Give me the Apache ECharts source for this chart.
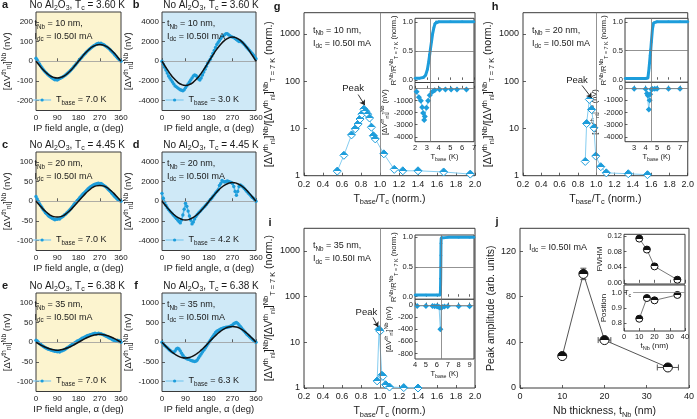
<!DOCTYPE html>
<html><head><meta charset="utf-8">
<script src="https://cdn.jsdelivr.net/npm/echarts@6/dist/echarts.min.js"></script>
<style>html,body{margin:0;padding:0;background:#fff}#c{width:697px;height:419px}</style>
</head><body><div id="c"></div>
<script>
// ---------------- DATA ----------------
const angles = [0,5,10,15,20,25,30,35,40,45,50,55,60,65,70,75,80,85,90,95,100,105,110,115,120,125,130,135,140,145,150,155,160,165,170,175,180,185,190,195,200,205,210,215,220,225,230,235,240,245,250,255,260,265,270,275,280,285,290,295,300,305,310,315,320,325,330,335,340,345,350,355,360];
const fitAngles = [0,15,30,45,60,75,90,105,120,135,150,165,180,195,210,225,240,255,270,285,300,315,330,345,360];

const aVals = [15,6,-4,-14,-24,-33,-41,-49,-55,-61,-67,-72,-77,-82,-86,-90,-94,-93,-95,-91,-88,-85,-82,-78,-74,-70,-65,-60,-54,-48,-42,-35,-28,-21,-14,-6,1,8,15,22,29,35,42,48,54,60,65,70,74,79,82,86,89,91,88,92,87,85,81,77,73,68,63,57,51,45,38,31,24,17,11,5,0];
const aFit = [0,-22,-43,-60,-74,-82,-85,-82,-74,-60,-43,-22,0,22,43,60,74,82,85,82,74,60,43,22,0];

const bVals = [0,-300,-600,-900,-1200,-1500,-1700,-1900,-2100,-2300,-2500,-2600,-2700,-2800,-2900,-2950,-3000,-2900,-2700,-2500,-2300,-2100,-1900,-1700,-1500,-1400,-1450,-1600,-1800,-1900,-1700,-1400,-1100,-800,-500,-200,0,200,500,800,1100,1400,1700,1900,2100,2300,2500,2600,2700,2800,2800,2700,2600,2500,2450,2400,2300,2200,2100,2000,2050,1950,1850,1700,1550,1400,1250,1100,950,800,650,450,250];
const bFit = [0,-634,-1225,-1732,-2122,-2367,-2450,-2367,-2122,-1732,-1225,-634,0,634,1225,1732,2122,2367,2450,2367,2122,1732,1225,634,0];

const cVals = [12,6,0,-6,-11,-16,-21,-25,-29,-32,-35,-38,-40,-42,-44,-45,-47,-45,-46,-44,-45,-42,-40,-38,-35,-33,-30,-27,-24,-20,-17,-13,-9,-5,-2,2,5,9,12,16,19,22,25,28,31,34,36,38,40,42,43,44,45,46,44,45,43,41,39,37,34,31,28,25,21,18,14,11,8,5,3,2,0];
const cFit = [0,-10,-20,-28,-35,-39,-40,-39,-35,-28,-20,-10,0,10,20,28,35,39,40,39,35,28,20,10,0];

const dVals = [800,300,-100,-400,-650,-850,-1000,-1150,-1300,-1450,-1600,-1750,-1900,-2050,-2200,-1900,-1400,-800,-200,-500,-1000,-1500,-1900,-2300,-2100,-1800,-1550,-1350,-1200,-1050,-900,-750,-620,-480,-320,-160,0,150,300,500,650,850,1000,1150,1600,1800,2100,2000,1950,2000,2050,2000,1950,1900,1800,1500,1000,600,1000,1500,1650,1550,1450,1300,1150,1000,850,700,550,400,300,150,0];
const dFit = [0,-492,-950,-1343,-1645,-1835,-1900,-1835,-1645,-1343,-950,-492,0,492,950,1343,1645,1835,1900,1835,1645,1343,950,492,0];

const eVals = [5,3,0,-3,-5,-8,-10,-12,-14,-15,-17,-18,-19,-20,-21,-22,-23,-22,-24,-23,-25,-22,-22,-20,-19,-17,-15,-13,-11,-9,-7,-5,-3,-1,1,3,4,6,8,10,11,13,14,16,17,18,19,20,21,22,23,21,22,23,21,22,20,19,18,16,15,13,11,10,8,6,5,4,3,5,2,4,0];
const eFit = [0,-5,-10,-14,-17,-19,-20,-19,-17,-14,-10,-5,0,5,10,14,17,19,20,19,17,14,10,5,0];

const fVals = [0,-40,-80,-110,-140,-170,-200,-230,-250,-260,-220,-170,-150,-170,-220,-280,-330,-380,-400,-420,-430,-440,-460,-470,-480,-490,-480,-450,-400,-350,-300,-250,-200,-150,-100,-50,0,50,100,150,200,250,280,300,320,340,350,360,370,380,380,390,400,420,440,470,490,500,480,440,400,360,320,280,240,200,170,140,110,80,50,20,0];
const fFit = [0,-104,-200,-283,-346,-386,-400,-386,-346,-283,-200,-104,0,104,200,283,346,386,400,386,346,283,200,104,0];

const panelTc = ['3.60','3.60','4.45','4.45','6.38','6.38'];
const panelTnb = ['10','10','20','20','35','35'];
const panelTbase = ['7.0','3.0','7.0','4.2','7.0','6.3'];
const panelLetters = ['a','b','c','d','e','f'];

// g, h, i main (T_base/T_c, normalized amplitude)
const gX = [0.55,0.62,0.70,0.74,0.77,0.79,0.81,0.83,0.85,0.87,0.89,0.91,0.93,0.95,1.04,1.15,1.24,1.40,1.67,1.95];
const gY = [1.25,2.7,7.3,9.8,12.4,15.8,20,25.5,23,20,16.6,10.6,7,6,2.9,1.36,1.27,1.27,1.2,1.08];
const hX = [0.88,0.895,0.925,0.95,0.975,0.995,1.05,1.11,1.35,1.56];
const hY = [2.0,12.7,41,25,10.3,2.6,1.55,1.15,1.1,1.05];
const iX = [0.97,0.99,1.0,1.02,1.03,1.06,1.1,1.25,1.4];
const iY = [1.43,19,17.5,1.9,1.8,1.18,1.05,1.02,1.0];

// insets: R/R(7K) vs T_base
const gRT = [2.0,2.4,2.7,2.9,3.05,3.15,3.25,3.3,3.4,3.5,3.6,3.7,3.8,4.0,5.0,6.0,7.0];
const gRV = [0.03,0.03,0.04,0.08,0.18,0.3,0.44,0.52,0.66,0.8,0.9,0.97,1.0,1.0,1.0,1.0,1.0];
const hRT = [2.2,3.0,4.0,4.2,4.3,4.4,4.45,4.5,4.6,4.7,5.0,6.0,7.0,7.7];
const hRV = [0.02,0.02,0.02,0.03,0.2,0.42,0.52,0.65,0.88,0.98,1.0,1.0,1.0,1.0];
const iRT = [4.0,5.0,6.0,6.3,6.33,6.35,6.36,6.37,6.38,6.4,6.45,7.0,8.0,9.0,9.4];
const iRV = [0.03,0.03,0.03,0.03,0.1,0.3,0.5,0.7,0.9,0.99,1.0,1.0,1.0,1.0,1.0];
// insets: [dV]^Nb (nV) vs T_base
const gVT = [2.14,2.33,2.5,2.61,2.69,2.78,2.83,2.97,3.11,3.25,3.47,3.67,4.08,4.58,5.06,5.56,6.36];
const gVV = [-290,-730,-1020,-1550,-2040,-2620,-2330,-1600,-1020,-580,-290,-150,-90,-90,-90,-90,-90];
const hVT = [3.0,4.0,4.12,4.2,4.28,4.35,4.4,4.5,4.6,4.8,5.0,6.0,7.0];
const hVV = [-50,-80,-450,-600,-1750,-1000,-500,-100,-80,-60,-50,-50,-50];
const iVT = [4.2,5.0,5.6,5.8,6.0,6.1,6.2,6.28,6.32,6.4,6.5,6.7,7.0,8.0,9.0];
const iVV = [-15,-15,-15,-20,-20,-25,-30,-40,-400,-40,-30,-25,-20,-20,-20];
const gTcLine = 3.3, hTcLine = 4.45, iTcLine = 6.36;

// j
const jThick = [10,15,20,35];
const jAmp = [28,100,42,18];
const jAmpErr = [0,5,0,0];
const jThickErr = [0,0,1.5,2.5];
const jFwhm = [0.113,0.085,0.042,0.008];
const jPos = [0.83,0.965,0.95,0.985];

// ---------------- STYLE ----------------
const FONT = '"Liberation Sans", Arial, sans-serif';
const TXT = '#1a1a1a';
const C_DATA = '#1d9ddb';
const C_LIGHT = '#86cdf0';
const BG_Y = '#fcf4cf';
const BG_B = '#cfe9f7';
const plain = v => String(Math.round(v*1000)/1000);

function R(size){
  const s = Math.round(size*0.7*10)/10;
  return {
    n:{fontSize:size,fontFamily:FONT,color:TXT,lineHeight:Math.round(size*1.3)},
    sub:{fontSize:s,fontFamily:FONT,color:TXT,verticalAlign:'bottom',lineHeight:Math.round(size*0.75)},
    sup:{fontSize:s,fontFamily:FONT,color:TXT,verticalAlign:'top',lineHeight:Math.round(size*0.75)}
  };
}
function half(c){return {type:'linear',x:0,y:0,x2:0,y2:1,colorStops:[{offset:0,color:c},{offset:0.5,color:c},{offset:0.5,color:'#fff'},{offset:1,color:'#fff'}]};}

const grids = [], xAxes = [], yAxes = [], series = [], legends = [], graphics = [];

function addGrid(box, bg){
  grids.push({left:box[0],top:box[1],width:box[2],height:box[3],show:true,backgroundColor:bg||'transparent',borderColor:'#3a3a3a',borderWidth:1,containLabel:false});
  return grids.length-1;
}
function axisBase(g, o){
  return Object.assign({type:'value',gridIndex:g,axisLine:{show:false},
    axisTick:{show:true,inside:true,length:3,lineStyle:{color:'#3a3a3a',width:0.8}},
    splitLine:{show:false}}, o);
}
function lbl(size, extra){return Object.assign({fontSize:size,color:TXT,fontFamily:FONT,formatter:plain},extra||{});}

function gtext(x,y,text,size,align,extra){
  graphics.push(Object.assign({type:'text',x:x,y:y,z:100,silent:true,
    style:{text:text,rich:R(size),font:size+'px '+FONT,fill:TXT,align:align||'left',textAlign:align||'left',verticalAlign:'middle',textVerticalAlign:'middle'}},extra||{}));
}
function letter(x,y,t){
  graphics.push({type:'text',x:x,y:y,z:100,silent:true,style:{text:t,font:'bold 11px '+FONT,fill:TXT,align:'center',textAlign:'center',verticalAlign:'middle',textVerticalAlign:'middle'}});
}

// ---------- panels a-f ----------
const panelVals = [aVals,bVals,cVals,dVals,eVals,fVals];
const panelFits = [aFit,bFit,cFit,dFit,eFit,fFit];
const panelRange = [250,5000,125,5000,125,1250];
const panelTicks = [[-200,-100,0,100,200],[-4000,-2000,0,2000,4000],[-100,-50,0,50,100],[-4000,-2000,0,2000,4000],[-100,-50,0,50,100],[-1000,-500,0,500,1000]];
const rowTop = [12,152,293];
const colBox = [[29.5,91.5],[162,94]];
const yNameGap = [23,25,23,25,23,25];

for(let p=0;p<6;p++){
  const row = Math.floor(p/2), col = p%2;
  const L = colBox[col][0], W = colBox[col][1], T = rowTop[row], H = 98.5;
  const g = addGrid([L,T,W,H], col===0?BG_Y:BG_B);
  xAxes.push(axisBase(g,{min:0,max:360,interval:90,
    axisLabel:lbl(8,{margin:3}),
    name:'IP field angle, α (deg)',nameLocation:'middle',nameGap:13,
    nameTextStyle:{fontSize:9.5,color:TXT,fontFamily:FONT}}));
  const rg = panelRange[p], tk = panelTicks[p];
  yAxes.push(axisBase(g,{min:-rg,max:rg,
    axisLabel:lbl(8,{margin:3,customValues:tk}),
    axisTick:{show:true,inside:true,length:3,customValues:tk,lineStyle:{color:'#3a3a3a',width:0.8}},
    name:'{n|[ΔV}{sup|th}{sub|nl}{n|]}{sup|Nb}{n| (nV)}',nameLocation:'middle',nameGap:yNameGap[p],nameRotate:90,
    nameTextStyle:{rich:R(9.5)}}));
  const vals = panelVals[p], fit = panelFits[p];
  const nm = 'T'+panelLetters[p];
  series.push({type:'line',name:nm,xAxisIndex:g,yAxisIndex:g,data:angles.map((a,i)=>[a,vals[i]]),
    symbol:'circle',symbolSize:3.4,itemStyle:{color:C_DATA},lineStyle:{color:'#4fb5e6',width:1.6},z:3,
    markLine:{silent:true,symbol:['none','none'],label:{show:false},lineStyle:{color:'#9a9a9a',width:0.8,type:'solid'},data:[{yAxis:0}]}});
  series.push({type:'line',name:'fit'+p,xAxisIndex:g,yAxisIndex:g,data:fitAngles.map((a,i)=>[a,fit[i]]),
    smooth:true,symbol:'none',showSymbol:false,lineStyle:{color:'#111',width:1.5},z:5});
  legends.push({data:[nm],left:L+3,top:T+H-15,itemWidth:18,itemHeight:4,itemGap:2,
    itemStyle:{color:C_DATA},lineStyle:{color:'#7ccaf0',width:1.2},
    formatter:()=>'{n|T}{sub|base}{n| = '+panelTbase[p]+' K}',textStyle:{rich:R(9)},padding:0});
  letter(col===0?5:136, T-7, panelLetters[p]);
  gtext(L+W/2+2, T-7, '{n|No Al}{sub|2}{n|O}{sub|3}{n|, T}{sub|c}{n| = '+panelTc[p]+' K}', 10, 'center');
  gtext(L+5, T+12, '{n|t}{sub|Nb}{n| = '+panelTnb[p]+' nm,}', 9, 'left');
  gtext(L+5, T+24.5, '{n|I}{sub|dc}{n| = I0.50I mA}', 9, 'left');
}

// ---------- g, h, i ----------
const mainSpecs = [
  {box:[304,12.7,171,163], max:2800, X:gX, Y:gY, letter:'g', lx:277, ly:7, tnb:'10', peakTxt:[0.717,69], arrow:[[0.77,52],[0.84,31]],
   insT:[415,18.3,59,64.2], insB:[415,82.5,59,59.2], xr:[2,7], xt:[2,3,4,5,6,7], RT:gRT, RV:gRV, VT:gVT, VV:gVV, vr:[-4400,480], vt:[-4000,-3000,-2000,-1000,0], tc:gTcLine, rr:[-0.045,1.06]},
  {box:[523,12.7,169,163], max:2800, X:hX, Y:hY, letter:'h', lx:495, ly:7, tnb:'20', peakTxt:[0.79,104], arrow:[[0.845,81],[0.95,44]],
   insT:[625,18.3,63,64], insB:[625,82.3,63,59.4], xr:[2.2,7.7], xt:[3,4,5,6,7], RT:hRT, RV:hRV, VT:hVT, VV:hVV, vr:[-4400,480], vt:[-4000,-3000,-2000,-1000,0], tc:hTcLine, rr:[-0.045,1.06]},
  {box:[304,228.3,171,164.4], max:3100, X:iX, Y:iY, letter:'i', lx:270, ly:223, tnb:'35', peakTxt:[0.857,45], arrow:[[0.926,35],[0.98,21.6]],
   insT:[415,235,59,64.3], insB:[415,299.3,59,59.7], xr:[4,9.4], xt:[4,5,6,7,8,9], RT:iRT, RV:iRV, VT:iVT, VV:iVV, vr:[-890,95], vt:[-800,-600,-400,-200,0], tc:iTcLine, rr:[-0.044,1.04]}
];
const yNameMain = '{n|[ΔV}{sup|th}{sub|nl}{n|]}{sup|Nb}{n|/[ΔV}{sup|th}{sub|nl}{n|]}{sup|Nb}{sub|T = 7 K}{n| (norm.)}';
mainSpecs.forEach(s=>{
  const g = addGrid(s.box,'#fff');
  xAxes.push(axisBase(g,{min:0.2,max:2.0,interval:0.2,
    axisLabel:lbl(9,{margin:4,formatter:v=>v.toFixed(1)}),
    name:'{n|T}{sub|base}{n|/T}{sub|c}{n| (norm.)}',nameLocation:'middle',nameGap:16,nameTextStyle:{rich:R(10.5)}}));
  yAxes.push(axisBase(g,{type:'log',logBase:10,min:1,max:s.max,
    axisLabel:lbl(9,{margin:4,customValues:[1,10,100,1000],formatter:v=>String(Math.round(v))}),
    axisTick:{show:true,inside:true,length:3,customValues:[1,10,100,1000],lineStyle:{color:'#3a3a3a',width:0.8}},
    name:yNameMain,nameLocation:'middle',nameGap:22,nameRotate:90,nameTextStyle:{rich:R(10.5)}}));
  series.push({type:'line',name:'main'+s.letter,xAxisIndex:g,yAxisIndex:g,data:s.X.map((x,i)=>[x,s.Y[i]]),
    symbol:'diamond',symbolSize:8,itemStyle:{color:half(C_DATA),borderColor:C_DATA,borderWidth:1},
    lineStyle:{color:C_LIGHT,width:1},z:4,
    markLine:{silent:true,symbol:['none','none'],label:{show:false},animation:false,
      data:[{xAxis:1.0,lineStyle:{color:'#777',width:0.8,type:'solid'}},
        [{coord:s.arrow[0],symbol:'none'},{coord:s.arrow[1],symbol:'arrow',symbolSize:5,lineStyle:{color:'#222',width:0.9,type:'solid'}}]]},
    markPoint:{silent:true,symbol:'circle',symbolSize:1,itemStyle:{color:'rgba(0,0,0,0)'},
      label:{show:true,position:'inside',formatter:'Peak',fontSize:9.5,color:TXT,fontFamily:FONT},
      data:[{coord:s.peakTxt}]}});
  letter(s.lx, s.ly, s.letter);
  gtext(s.box[0]+9, s.box[1]+17.5, '{n|t}{sub|Nb}{n| = '+s.tnb+' nm,}', 9, 'left');
  gtext(s.box[0]+9, s.box[1]+30.5, '{n|I}{sub|dc}{n| = I0.50I mA}', 9, 'left');

  // inset top: R/R7K
  const gt = addGrid(s.insT,'#fff');
  xAxes.push(axisBase(gt,{min:s.xr[0],max:s.xr[1],axisLabel:{show:false},
    axisTick:{show:true,inside:true,length:2.5,customValues:s.xt,lineStyle:{color:'#3a3a3a',width:0.8}}}));
  yAxes.push(axisBase(gt,{min:s.rr[0],max:s.rr[1],
    axisLabel:lbl(7.5,{margin:2,customValues:[0,0.5,1],formatter:v=>v.toFixed(1)}),
    axisTick:{show:true,inside:true,length:2.5,customValues:[0,0.5,1],lineStyle:{color:'#3a3a3a',width:0.8}},
    name:'{n|R}{sup|Nb}{n|/R}{sup|Nb}{sub|T = 7 K}{n| (norm.)}',nameLocation:'middle',nameGap:15,nameRotate:90,nameTextStyle:{rich:R(7.5)}}));
  series.push({type:'line',name:'R'+s.letter,xAxisIndex:gt,yAxisIndex:gt,data:s.RT.map((x,i)=>[x,s.RV[i]]),
    symbol:'circle',symbolSize:2.5,itemStyle:{color:C_DATA},lineStyle:{color:C_DATA,width:3},z:4,
    markLine:{silent:true,symbol:['none','none'],label:{show:false},lineStyle:{color:'#777',width:0.8,type:'solid'},
      data:[{xAxis:s.tc},{yAxis:0.5}]}});
  // inset bottom: dV vs T
  const gb = addGrid(s.insB,'#fff');
  xAxes.push(axisBase(gb,{min:s.xr[0],max:s.xr[1],
    axisLabel:lbl(7.5,{margin:2,customValues:s.xt}),
    axisTick:{show:true,inside:true,length:2.5,customValues:s.xt,lineStyle:{color:'#3a3a3a',width:0.8}},
    name:'{n|T}{sub|base}{n| (K)}',nameLocation:'middle',nameGap:10,nameTextStyle:{rich:R(7.5)}}));
  yAxes.push(axisBase(gb,{min:s.vr[0],max:s.vr[1],
    axisLabel:lbl(7.5,{margin:2,customValues:s.vt}),
    axisTick:{show:true,inside:true,length:2.5,customValues:s.vt,lineStyle:{color:'#3a3a3a',width:0.8}},
    name:'{n|[ΔV}{sup|th}{sub|nl}{n|]}{sup|Nb}{n| (nV)}',nameLocation:'middle',nameGap:21,nameRotate:90,nameTextStyle:{rich:R(7.5)}}));
  series.push({type:'line',name:'V'+s.letter,xAxisIndex:gb,yAxisIndex:gb,data:s.VT.map((x,i)=>[x,s.VV[i]]),
    symbol:'diamond',symbolSize:6,itemStyle:{color:C_DATA},lineStyle:{color:C_LIGHT,width:1},z:4,
    markLine:{silent:true,symbol:['none','none'],label:{show:false},lineStyle:{color:'#777',width:0.8,type:'solid'},
      data:[{xAxis:s.tc},{yAxis:0}]}});
});

// ---------- j ----------
const gj = addGrid([520,228.3,174,164.4],'#fff');
xAxes.push(axisBase(gj,{min:0,max:40,interval:10,axisLabel:lbl(9,{margin:4}),
  name:'{n|Nb thickness, t}{sub|Nb}{n| (nm)}',nameLocation:'middle',nameGap:16,nameTextStyle:{rich:R(10.5)}}));
yAxes.push(axisBase(gj,{min:0,max:140,axisLabel:lbl(9,{margin:4,customValues:[0,40,80,120]}),
  axisTick:{show:true,inside:true,length:3,customValues:[0,40,80,120],lineStyle:{color:'#3a3a3a',width:0.8}},
  name:'Peak amplitude (arb. units)',nameLocation:'middle',nameGap:18,nameRotate:90,nameTextStyle:{fontSize:10.5,color:TXT,fontFamily:FONT}}));
series.push({type:'custom',name:'errj',xAxisIndex:gj,yAxisIndex:gj,coordinateSystem:'cartesian2d',z:3,
  data:jThick.map((t,i)=>[t,jAmp[i],jThickErr[i],jAmpErr[i]]),
  renderItem:(params,api)=>{
    const x=api.value(0),y=api.value(1),ex=api.value(2),ey=api.value(3);
    const ch=[]; const st={stroke:'#555',lineWidth:1};
    if(ex>0){const l=api.coord([x-ex,y]),r=api.coord([x+ex,y]);
      ch.push({type:'line',shape:{x1:l[0],y1:l[1],x2:r[0],y2:r[1]},style:st});
      ch.push({type:'line',shape:{x1:l[0],y1:l[1]-3,x2:l[0],y2:l[1]+3},style:st});
      ch.push({type:'line',shape:{x1:r[0],y1:r[1]-3,x2:r[0],y2:r[1]+3},style:st});}
    if(ey>0){const b=api.coord([x,y-ey]),t=api.coord([x,y+ey]);
      ch.push({type:'line',shape:{x1:b[0],y1:b[1],x2:t[0],y2:t[1]},style:st});
      ch.push({type:'line',shape:{x1:t[0]-3,y1:t[1],x2:t[0]+3,y2:t[1]},style:st});
      ch.push({type:'line',shape:{x1:b[0]-3,y1:b[1],x2:b[0]+3,y2:b[1]},style:st});}
    return {type:'group',children:ch};
  }});
series.push({type:'line',name:'ampj',xAxisIndex:gj,yAxisIndex:gj,data:jThick.map((t,i)=>[t,jAmp[i]]),
  symbol:'circle',symbolSize:9,itemStyle:{color:half('#111'),borderColor:'#111',borderWidth:1},lineStyle:{color:'#555',width:1},z:4});
letter(497,222,'j');
gtext(529,247.7,'{n|I}{sub|dc}{n| = I0.50I mA}',9,'left');

const gjt = addGrid([624,234.3,61,49.7],'#fff');
xAxes.push(axisBase(gjt,{min:0,max:40,interval:10,axisLabel:{show:false}}));
yAxes.push(axisBase(gjt,{min:-0.003,max:0.124,
  axisLabel:lbl(7.5,{margin:2,customValues:[0,0.04,0.08,0.12],formatter:v=>v.toFixed(2)}),
  axisTick:{show:true,inside:true,length:2.5,customValues:[0,0.04,0.08,0.12],lineStyle:{color:'#3a3a3a',width:0.8}},
  name:'FWHM',nameLocation:'middle',nameGap:19,nameRotate:90,nameTextStyle:{fontSize:8,color:TXT,fontFamily:FONT}}));
series.push({type:'line',name:'fwhm',xAxisIndex:gjt,yAxisIndex:gjt,data:jThick.map((t,i)=>[t,jFwhm[i]]),
  symbol:'circle',symbolSize:7,itemStyle:{color:half('#111'),borderColor:'#111',borderWidth:1},lineStyle:{color:'#555',width:0.8},z:4});
const gjb = addGrid([624,285,61,46],'#fff');
xAxes.push(axisBase(gjb,{min:0,max:40,interval:10,axisLabel:lbl(7.5,{margin:2}),
  name:'{n|t}{sub|Nb}{n| (nm)}',nameLocation:'middle',nameGap:10,nameTextStyle:{rich:R(8)}}));
yAxes.push(axisBase(gjb,{min:0.75,max:1.05,
  axisLabel:lbl(7.5,{margin:2,customValues:[0.8,0.9,1.0],formatter:v=>v.toFixed(1)}),
  axisTick:{show:true,inside:true,length:2.5,customValues:[0.8,0.9,1.0],lineStyle:{color:'#3a3a3a',width:0.8}},
  name:'Position',nameLocation:'middle',nameGap:15,nameRotate:90,nameTextStyle:{fontSize:8,color:TXT,fontFamily:FONT}}));
series.push({type:'line',name:'pos',xAxisIndex:gjb,yAxisIndex:gjb,data:jThick.map((t,i)=>[t,jPos[i]]),
  symbol:'circle',symbolSize:7,itemStyle:{color:half('#111'),borderColor:'#111',borderWidth:1},lineStyle:{color:'#555',width:0.8},z:4,
  markLine:{silent:true,symbol:['none','none'],lineStyle:{color:'#888',width:0.8,type:'solid'},
    label:{show:true,position:'start',distance:2,formatter:'{n|T}{sub|c}',rich:R(7.5)},
    data:[[{coord:[6,1.0]},{coord:[40,1.0]}]]}});

const chart = echarts.init(document.getElementById('c'),null,{renderer:'canvas'});
chart.setOption({animation:false,backgroundColor:'#fff',grid:grids,xAxis:xAxes,yAxis:yAxes,series:series,legend:legends,graphic:{elements:graphics}});
</script></body></html>
